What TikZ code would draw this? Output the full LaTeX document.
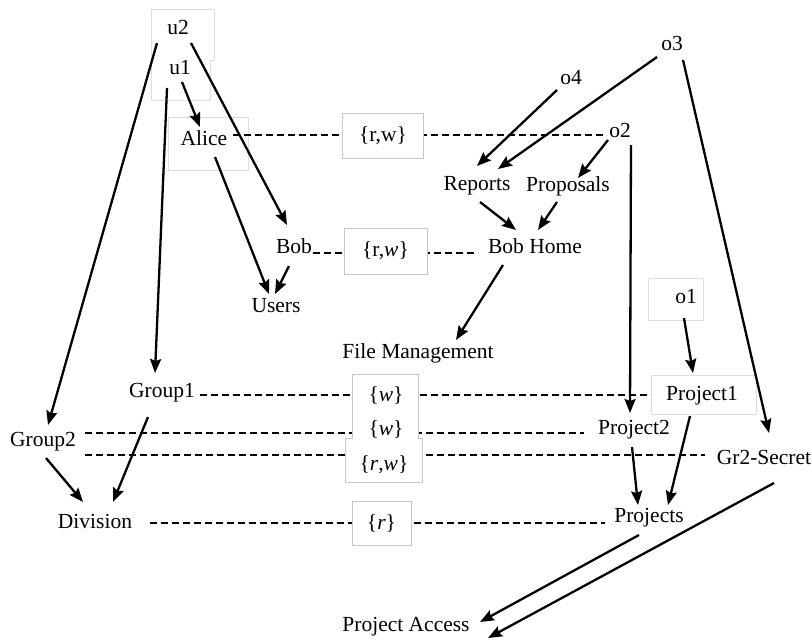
\documentclass[tikz,border=0pt]{standalone}
\usepackage{fontspec}
\setmainfont{Liberation Serif}
\usetikzlibrary{arrows.meta}
\begin{document}
\begin{tikzpicture}[x=1pt,y=-1pt,
  every node/.style={font=\fontsize{21.5}{25}\selectfont, inner sep=0pt},
  arr/.style={line width=2.3pt, -{Stealth[length=14pt,width=11pt,inset=2pt]}},
  dline/.style={line width=1.4pt, dash pattern=on 7pt off 4pt},
  lbox/.style={draw=black!22, line width=0.8pt, fill=white},
  gbox/.style={draw=black!13, line width=0.8pt}]
\useasboundingbox (0,0) rectangle (812,641);
% faint background boxes
\draw[gbox] (151,9) -- (214,9) -- (214,60) -- (210,60) -- (210,100) -- (151,100) -- cycle;
\draw[gbox] (168,117) rectangle (248,170);
\draw[gbox] (648,278) rectangle (703,320);
\draw[gbox] (651,375) rectangle (756,414);
% nodes
\node (u2) at (178,27) {u2};
\node (u1) at (180,68) {u1};
\node (alice) at (204,138) {Alice};
\node (bob) at (294,246) {Bob};
\node (users) at (276,306) {Users};
\node (o4) at (571,78) {o4};
\node (o3) at (672,43) {o3};
\node (o2) at (620,130) {o2};
\node (reports) at (477,186) {Reports};
\node (proposals) at (568,186) {Proposals};
\node (bobhome) at (535,246) {Bob Home};
\node (fm) at (418,353) {File Management};
\node (o1) at (686,297) {o1};
\node (p1) at (702,396) {Project1};
\node (p2) at (634,430) {Project2};
\node (gr2) at (764,457) {Gr2-Secret};
\node (projects) at (649,518) {Projects};
\node (g1) at (162,393) {Group1};
\node (g2) at (43,442) {Group2};
\node (div) at (95,521) {Division};
\node (pa) at (406,627) {Project Access};
% dashed relations
\draw[dline] ([shift={(29,-3)}]alice.center) -- ([shift={(-13,5)}]o2.center);
\draw[dline] ([shift={(19,7)}]bob.center) -- ([shift={(-57,7)}]bobhome.center);
\draw[dline] ([shift={(38,2)}]g1.center) -- ([shift={(-51,-1)}]p1.center);
\draw[dline] ([shift={(42,-9)}]g2.center) -- ([shift={(-50,3)}]p2.center);
\draw[dline] ([shift={(42,13)}]g2.center) -- ([shift={(-59,-2)}]gr2.center);
\draw[dline] ([shift={(55,2)}]div.center) -- ([shift={(-44,5)}]projects.center);
% labels
\node[lbox, minimum width=81pt, minimum height=45pt] (rw1) at (383,136) {\{r,w\}};
\node[lbox, minimum width=83pt, minimum height=46pt] (rw2) at (385.5,251) {\{r,\textit{w}\}};
\draw[lbox] (352,374) -- (418,374) -- (418,438) -- (422,438) -- (422,482) -- (345,482) -- (345,438) -- (352,438) -- cycle;
\node (w1) at (386,395) {\{\textit{w}\}};
\node (w2) at (386,429) {\{\textit{w}\}};
\node (rw3) at (384,465) {\{\textit{r},\textit{w}\}};
\node[lbox, minimum width=59pt, minimum height=44pt] (r1) at (381.5,523) {\{\textit{r}\}};
% arrows
\draw[arr] ([shift={(-21,16)}]u2.center) -- ([shift={(5,-17)}]g2.center);
\draw[arr] ([shift={(-13,20)}]u1.center) -- ([shift={(-7,-20)}]g1.center);
\draw[arr] ([shift={(2,14)}]u1.center) -- ([shift={(-4,-11)}]alice.center);
\draw[arr] ([shift={(13,16)}]u2.center) -- ([shift={(-7,-21)}]bob.center);
\draw[arr] ([shift={(11,19)}]alice.center) -- ([shift={(-7,-12)}]users.center);
\draw[arr] ([shift={(-5,20)}]bob.center) -- ([shift={(-1,-12)}]users.center);
\draw[arr] ([shift={(-14,12)}]o4.center) -- ([shift={(0,-20)}]reports.center);
\draw[arr] ([shift={(-15,14)}]o3.center) -- ([shift={(21,-17)}]reports.center);
\draw[arr] ([shift={(-12,10)}]o2.center) -- ([shift={(10,-8)}]proposals.center);
\draw[arr] ([shift={(3,16)}]reports.center) -- ([shift={(-19,-16)}]bobhome.center);
\draw[arr] ([shift={(-11,16)}]proposals.center) -- ([shift={(3,-16)}]bobhome.center);
\draw[arr] ([shift={(-32,19)}]bobhome.center) -- ([shift={(38,-13)}]fm.center);
\draw[arr] ([shift={(11,15)}]o2.center) -- ([shift={(-4,-17)}]p2.center);
\draw[arr] ([shift={(11,17)}]o3.center) -- ([shift={(5,-24)}]gr2.center);
\draw[arr] ([shift={(-2,21)}]o1.center) -- ([shift={(-9,-23)}]p1.center);
\draw[arr] ([shift={(-14,24)}]g1.center) -- ([shift={(18,-19)}]div.center);
\draw[arr] ([shift={(3,16)}]g2.center) -- ([shift={(-12,-19)}]div.center);
\draw[arr] ([shift={(-2,17)}]p2.center) -- ([shift={(-11,-13)}]projects.center);
\draw[arr] ([shift={(-12,20)}]p1.center) -- ([shift={(19,-13)}]projects.center);
\draw[arr] ([shift={(-10,17)}]projects.center) -- ([shift={(74,-5)}]pa.center);
\draw[arr] ([shift={(10,26)}]gr2.center) -- ([shift={(82,11)}]pa.center);
\end{tikzpicture}
\end{document}
